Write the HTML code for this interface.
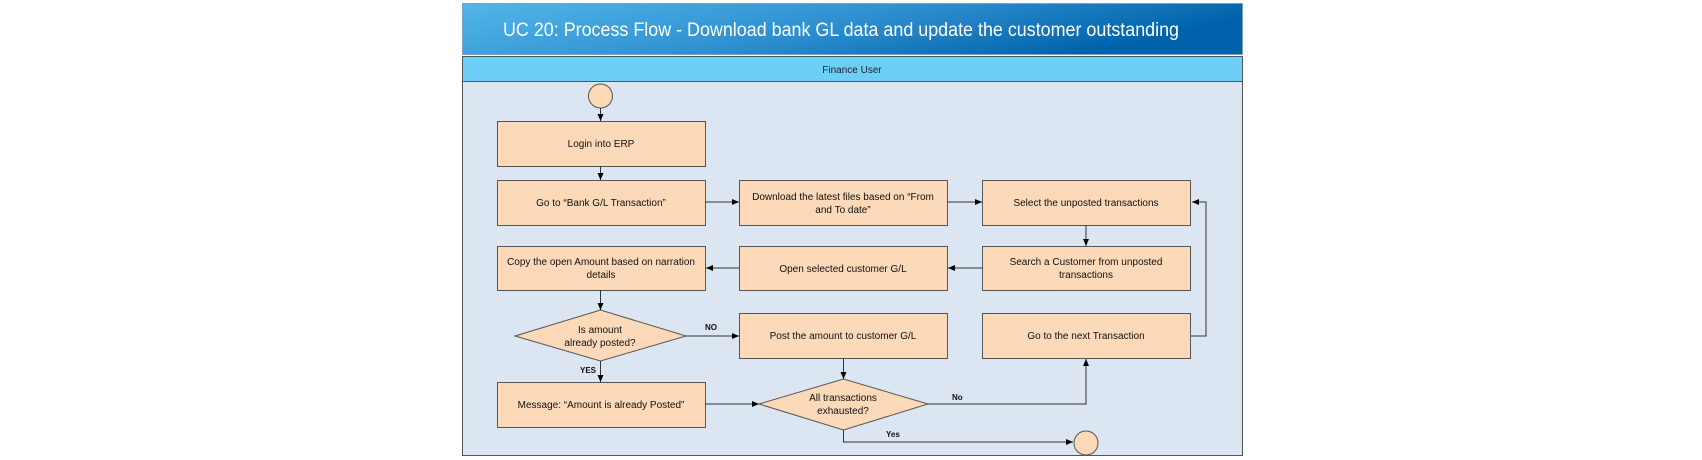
<!DOCTYPE html>
<html><head><meta charset="utf-8"><style>
html,body{margin:0;padding:0;background:#fff;width:1702px;height:460px;overflow:hidden}
svg{display:block}
text{font-family:"Liberation Sans",sans-serif}
</style></head><body>
<svg width="1702" height="460" viewBox="0 0 1702 460" xmlns="http://www.w3.org/2000/svg">
<defs>
<linearGradient id="tg" x1="0" y1="0" x2="1" y2="0.3">
<stop offset="0" stop-color="#52b6e8"/><stop offset="0.55" stop-color="#2e8fd0"/><stop offset="1" stop-color="#0062aa"/>
</linearGradient>
<marker id="a" markerWidth="8" markerHeight="8" refX="7" refY="4" orient="auto" markerUnits="userSpaceOnUse">
<path d="M0,1 L7,4 L0,7 z" fill="#000"/></marker>
</defs>
<rect x="462.5" y="3.5" width="780" height="51" fill="url(#tg)" stroke="#7f9fbf"/>
<text x="503" y="36" font-size="19" fill="#fff" textLength="676" lengthAdjust="spacingAndGlyphs">UC 20: Process Flow - Download bank GL data and update the customer outstanding</text>
<rect x="462.5" y="56.5" width="780" height="25" fill="#6dcff6" stroke="#555"/>
<text x="852" y="73" font-size="10" text-anchor="middle" fill="#222">Finance User</text>
<rect x="462.5" y="81.5" width="780" height="374" fill="#dce6f2" stroke="#555"/>
<g fill="#fcd9b8" stroke="#555" stroke-width="1">
<ellipse cx="600.5" cy="96" rx="12" ry="12"/>
<rect x="497.5" y="121.5" width="208" height="45"/>
<rect x="497.5" y="180.5" width="208" height="45"/>
<rect x="739.5" y="180.5" width="208" height="45"/>
<rect x="982.5" y="180.5" width="208" height="45"/>
<rect x="497.5" y="246.5" width="208" height="44"/>
<rect x="739.5" y="246.5" width="208" height="44"/>
<rect x="982.5" y="246.5" width="208" height="44"/>
<polygon points="515,336 600.5,310 686,336 600.5,361"/>
<rect x="739.5" y="313.5" width="208" height="45"/>
<rect x="982.5" y="313.5" width="208" height="45"/>
<rect x="497.5" y="382.5" width="208" height="45"/>
<polygon points="759,404 843.5,379 928,404 843.5,430"/>
<ellipse cx="1086" cy="443" rx="12" ry="12"/>
</g>
<g stroke="#333" stroke-width="1" fill="none" marker-end="url(#a)">
<path d="M600.5,108 V121"/>
<path d="M600.5,166 V180"/>
<path d="M705,202 H739"/>
<path d="M948,202 H982"/>
<path d="M1086,225 V246"/>
<path d="M982,268 H948"/>
<path d="M739,268 H706"/>
<path d="M600.5,290 V310"/>
<path d="M686,336 H739"/>
<path d="M600.5,361 V382"/>
<path d="M705,404 H759"/>
<path d="M843.5,358 V379"/>
<path d="M928,404 H1086 V359"/>
<path d="M843.5,430 V442 H1073"/>
<path d="M1191,336 H1206 V202 H1192"/>
</g>
<g font-size="10" fill="#111" text-anchor="middle">
<text x="601" y="147">Login into ERP</text>
<text x="601" y="206">Go to “Bank G/L Transaction”</text>
<text x="843" y="200">Download the latest files based on “From</text>
<text x="843" y="213">and To date”</text>
<text x="1086" y="206">Select the unposted transactions</text>
<text x="601" y="265">Copy the open Amount based  on narration</text>
<text x="601" y="278">details</text>
<text x="843" y="272">Open selected customer G/L</text>
<text x="1086" y="265">Search a Customer from  unposted</text>
<text x="1086" y="278">transactions</text>
<text x="600" y="333">Is amount</text>
<text x="600" y="346">already posted?</text>
<text x="843" y="339">Post the amount to customer G/L</text>
<text x="1086" y="339">Go to the next Transaction</text>
<text x="601" y="408">Message: “Amount is already Posted”</text>
<text x="843" y="401">All transactions</text>
<text x="843" y="414">exhausted?</text>
</g>
<g font-size="8" font-weight="bold" fill="#111">
<text x="705" y="330">NO</text>
<text x="580" y="373">YES</text>
<text x="952" y="400">No</text>
<text x="886" y="437">Yes</text>
</g>
</svg>
</body></html>
